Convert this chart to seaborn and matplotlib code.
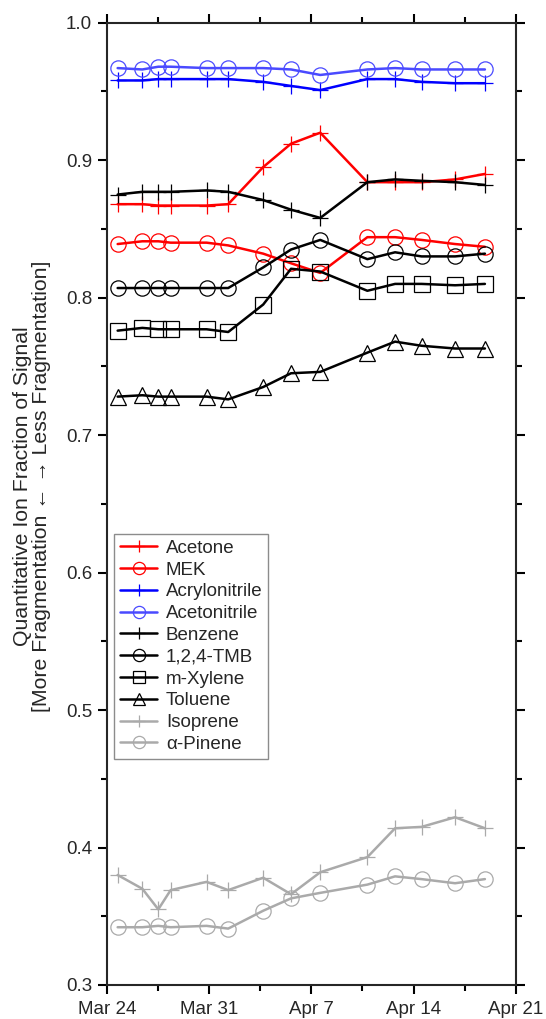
import pandas as pd
import numpy as np
import matplotlib
matplotlib.use('Agg')
import matplotlib.pyplot as plt
import matplotlib.dates as mdates
from matplotlib.ticker import MultipleLocator, AutoMinorLocator, FuncFormatter
import seaborn as sns

# sample times (same for every compound)
times = pd.to_datetime([
    '2015-03-24 18:00', '2015-03-26 10:30', '2015-03-27 12:45', '2015-03-28 09:00',
    '2015-03-30 20:00', '2015-04-01 07:30', '2015-04-03 17:00', '2015-04-05 14:40',
    '2015-04-07 14:40', '2015-04-10 20:00', '2015-04-12 17:30', '2015-04-14 13:00',
    '2015-04-16 20:00', '2015-04-18 21:00'])

acetone = [0.868, 0.868, 0.867, 0.867, 0.867, 0.868, 0.895, 0.912, 0.920, 0.884, 0.884, 0.884, 0.886, 0.890]
mek = [0.839, 0.841, 0.841, 0.840, 0.840, 0.838, 0.832, 0.825, 0.818, 0.844, 0.844, 0.842, 0.839, 0.837]
acrylonitrile = [0.958, 0.958, 0.959, 0.959, 0.959, 0.959, 0.957, 0.954, 0.951, 0.959, 0.959, 0.957, 0.956, 0.956]
acetonitrile = [0.967, 0.966, 0.968, 0.968, 0.967, 0.967, 0.967, 0.966, 0.962, 0.966, 0.967, 0.966, 0.966, 0.966]
benzene = [0.875, 0.877, 0.877, 0.877, 0.878, 0.877, 0.871, 0.864, 0.858, 0.884, 0.886, 0.885, 0.884, 0.882]
tmb = [0.807, 0.807, 0.807, 0.807, 0.807, 0.807, 0.822, 0.835, 0.842, 0.828, 0.833, 0.830, 0.830, 0.832]
xylene = [0.776, 0.778, 0.777, 0.777, 0.777, 0.775, 0.795, 0.821, 0.819, 0.805, 0.810, 0.810, 0.809, 0.810]
toluene = [0.728, 0.729, 0.728, 0.728, 0.728, 0.726, 0.735, 0.745, 0.746, 0.760, 0.768, 0.765, 0.763, 0.763]
isoprene = [0.380, 0.370, 0.355, 0.369, 0.375, 0.369, 0.378, 0.366, 0.382, 0.393, 0.414, 0.415, 0.422, 0.414]
pinene = [0.342, 0.342, 0.343, 0.342, 0.343, 0.341, 0.354, 0.363, 0.367, 0.373, 0.379, 0.377, 0.374, 0.377]

names = ['Acetone', 'MEK', 'Acrylonitrile', 'Acetonitrile', 'Benzene',
         '1,2,4-TMB', 'm-Xylene', 'Toluene', 'Isoprene', 'α-Pinene']
series = [acetone, mek, acrylonitrile, acetonitrile, benzene, tmb, xylene, toluene, isoprene, pinene]
colors = ['#ff0000', '#ff0000', '#0000ff', '#4a4aff', '#000000',
          '#000000', '#000000', '#000000', '#aaaaaa', '#aaaaaa']
markers = ['+', 'o', '+', 'o', '+', 'o', 's', '^', '+', 'o']

sns.set_style('ticks')
plt.rcParams['font.family'] = ['Liberation Sans', 'DejaVu Sans']

fig = plt.figure(figsize=(5.46, 10.19), dpi=100)
ax = fig.add_axes([0.1954, 0.0334, 0.7496, 0.9443])

for name, vals, c, m in zip(names, series, colors, markers):
    sns.lineplot(x=times, y=vals, ax=ax, color=c, lw=1.8, marker=m, markersize=11,
                 markerfacecolor='none', markeredgecolor=c, markeredgewidth=0.9,
                 label=name)

ax.set_ylim(0.3, 1.0)
ax.set_xlim(pd.Timestamp('2015-03-24'), pd.Timestamp('2015-04-21'))
ax.set_xticks(pd.date_range('2015-03-24', '2015-04-21', freq='7D'))
ax.xaxis.set_major_formatter(FuncFormatter(
    lambda x, _: f"{mdates.num2date(x):%b} {mdates.num2date(x).day}"))
ax.xaxis.set_minor_locator(AutoMinorLocator(2))
ax.yaxis.set_major_locator(MultipleLocator(0.1))
ax.yaxis.set_minor_locator(MultipleLocator(0.05))
ax.yaxis.set_major_formatter(FuncFormatter(lambda v, _: f"{v:.1f}"))

for s in ax.spines.values():
    s.set_linewidth(1.5)
    s.set_visible(True)
ax.tick_params(which='both', direction='out', width=1.5, top=True, right=True,
               labelsize=13.5, color='black')
ax.tick_params(which='major', length=6.5)
ax.tick_params(which='minor', length=4.5)
ax.tick_params(axis='x', which='major', pad=5)
ax.tick_params(axis='y', which='major', pad=4)

ax.set_xlabel('')
ax.set_ylabel('Quantitative Ion Fraction of Signal\n[More Fragmentation ← → Less Fragmentation]',
              fontsize=15.3, linespacing=1.0)
ax.yaxis.set_label_coords(-0.135, 0.518)

leg = ax.legend(loc='upper left', bbox_to_anchor=(0.0186, 0.4687), borderaxespad=0,
                fontsize=13.5, frameon=True, fancybox=False, edgecolor='#707070',
                handlelength=2.0, handletextpad=0.45, labelspacing=0.25,
                borderpad=0.3, markerscale=0.8)
leg.get_frame().set_linewidth(1.0)

fig.savefig('out.png', dpi=100)
